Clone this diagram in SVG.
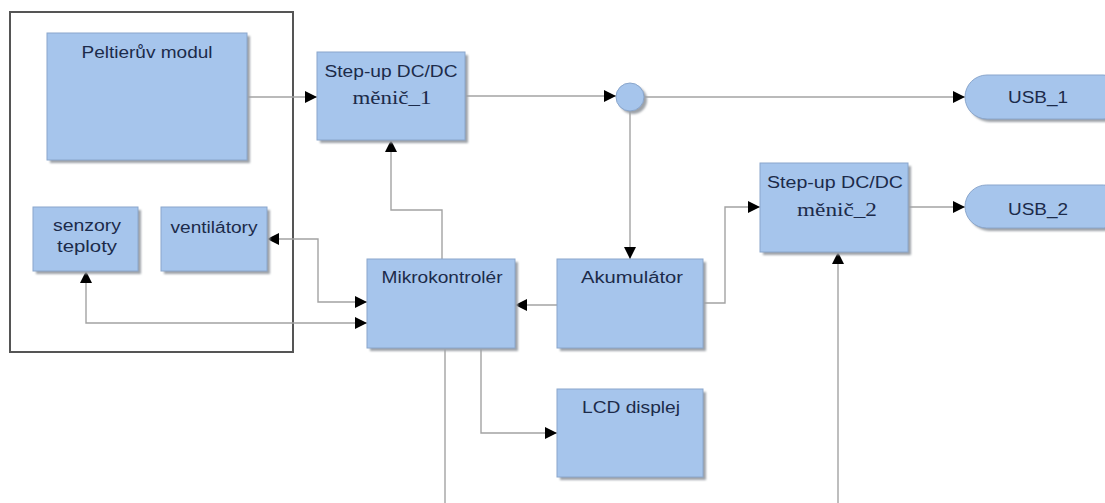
<svg xmlns="http://www.w3.org/2000/svg" width="1105" height="503" viewBox="0 0 1105 503">
<defs>
<marker id="arr" viewBox="0 0 10 10" refX="10" refY="5" markerWidth="12" markerHeight="12" markerUnits="userSpaceOnUse" orient="auto-start-reverse">
<path d="M0,0 L10,5 L0,10 z" fill="#000"/>
</marker>
<filter id="sh" x="-10%" y="-10%" width="130%" height="130%">
<feGaussianBlur stdDeviation="1.2"/>
</filter>
</defs>
<style>
.box{fill:#a6c5ec;stroke:#8aa6cc;stroke-width:1}
.shadow{fill:#9ea3a9;filter:url(#sh)}
.lbl{font-family:"Liberation Sans",Arial,sans-serif;font-size:16px;fill:#1c2b4a;text-anchor:middle}
.ser{font-family:"Liberation Serif","Times New Roman",serif;font-size:19px;fill:#1c2b4a;text-anchor:middle}
.con{fill:none;stroke:#a3a3a3;stroke-width:1.4}
.frame{fill:none;stroke:#555;stroke-width:2}
</style>
<rect width="1105" height="503" fill="#fff"/>
<rect class="frame" x="10" y="12" width="283" height="340"/>

<g id="connectors">
<path class="con" d="M247,97 H317" marker-end="url(#arr)"/>
<path class="con" d="M465,96 H616" marker-end="url(#arr)"/>
<path class="con" d="M644,97 H965" marker-end="url(#arr)"/>
<path class="con" d="M630,111 V259" marker-end="url(#arr)"/>
<path class="con" d="M442,259 V210 H391 V140" marker-end="url(#arr)"/>
<path class="con" d="M367,302 H318 V239 H267" marker-start="url(#arr)" marker-end="url(#arr)"/>
<path class="con" d="M367,323 H86 V271" marker-start="url(#arr)" marker-end="url(#arr)"/>
<path class="con" d="M557,305 H515" marker-end="url(#arr)"/>
<path class="con" d="M703,303 H725 V207 H760" marker-end="url(#arr)"/>
<path class="con" d="M908,207 H965" marker-end="url(#arr)"/>
<path class="con" d="M481,348 V433 H557" marker-end="url(#arr)"/>
<path class="con" d="M445,348 V510 H838 V252" marker-end="url(#arr)"/>
</g>

<g id="peltier">
<rect class="shadow" x="50" y="36" width="200" height="127"/>
<rect class="box" x="47" y="33" width="200" height="127"/>
<text class="lbl" x="147" y="58" textLength="131" lengthAdjust="spacingAndGlyphs">Peltierův modul</text>
</g>
<g id="senzory">
<rect class="shadow" x="36" y="210" width="105" height="64"/>
<rect class="box" x="33" y="207" width="105" height="64"/>
<text class="lbl" x="87" y="231" textLength="68" lengthAdjust="spacingAndGlyphs">senzory</text>
<text class="lbl" x="87" y="252" textLength="60" lengthAdjust="spacingAndGlyphs">teploty</text>
</g>
<g id="ventilatory">
<rect class="shadow" x="164" y="210" width="106" height="64"/>
<rect class="box" x="161" y="207" width="106" height="64"/>
<text class="lbl" x="214" y="233" textLength="87" lengthAdjust="spacingAndGlyphs">ventilátory</text>
</g>
<g id="stepup1">
<rect class="shadow" x="320" y="55" width="148" height="88"/>
<rect class="box" x="317" y="52" width="148" height="88"/>
<text class="lbl" x="391" y="77" textLength="133" lengthAdjust="spacingAndGlyphs">Step-up DC/DC</text>
<text class="ser" x="392" y="104" textLength="79" lengthAdjust="spacingAndGlyphs">měnič_1</text>
</g>
<g id="junction">
<circle class="shadow" cx="633" cy="100" r="14"/>
<circle class="box" cx="630" cy="97" r="14"/>
</g>
<g id="usb1">
<rect class="shadow" x="968" y="78" width="160" height="44" rx="22"/>
<rect class="box" x="965" y="75" width="160" height="44" rx="22"/>
<text class="lbl" x="1038" y="103" textLength="60" lengthAdjust="spacingAndGlyphs">USB_1</text>
</g>
<g id="stepup2">
<rect class="shadow" x="763" y="166" width="148" height="89"/>
<rect class="box" x="760" y="163" width="148" height="89"/>
<text class="lbl" x="835" y="188" textLength="136" lengthAdjust="spacingAndGlyphs">Step-up DC/DC</text>
<text class="ser" x="837" y="216" textLength="80" lengthAdjust="spacingAndGlyphs">měnič_2</text>
</g>
<g id="usb2">
<rect class="shadow" x="968" y="188" width="160" height="43" rx="21.5"/>
<rect class="box" x="965" y="185" width="160" height="43" rx="21.5"/>
<text class="lbl" x="1038" y="215" textLength="60" lengthAdjust="spacingAndGlyphs">USB_2</text>
</g>
<g id="mikrokontroler">
<rect class="shadow" x="370" y="262" width="148" height="89"/>
<rect class="box" x="367" y="259" width="148" height="89"/>
<text class="lbl" x="442" y="283" textLength="121" lengthAdjust="spacingAndGlyphs">Mikrokontrolér</text>
</g>
<g id="akumulator">
<rect class="shadow" x="560" y="262" width="146" height="89"/>
<rect class="box" x="557" y="259" width="146" height="89"/>
<text class="lbl" x="632" y="283" textLength="102" lengthAdjust="spacingAndGlyphs">Akumulátor</text>
</g>
<g id="lcd">
<rect class="shadow" x="560" y="392" width="146" height="88"/>
<rect class="box" x="557" y="389" width="146" height="88"/>
<text class="lbl" x="631" y="413" textLength="98" lengthAdjust="spacingAndGlyphs">LCD displej</text>
</g>
</svg>
